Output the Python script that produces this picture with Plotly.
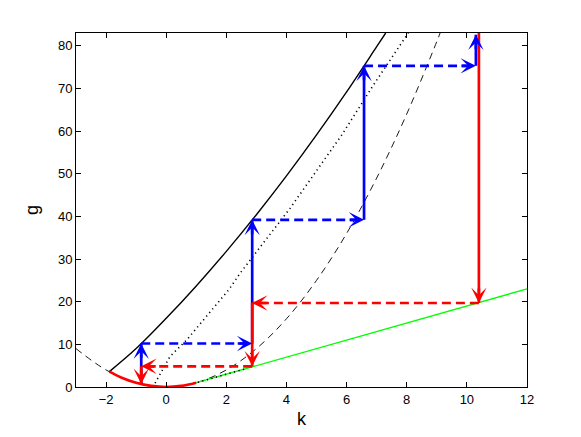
import plotly.graph_objects as go

# dashed parabola
k_parab = [-3, -2, -1, 0, 1, 2, 3, 4, 5, 6, 7, 8, 9, 9.11]
g_parab = [9, 4, 1, 0, 1, 4, 9, 16, 25, 36, 49, 64, 81, 83]

# upper solid curve
k_upper = [-1.89, -1, 0, 1, 2, 3, 4, 5, 6, 7, 7.3]
g_upper = [3.6, 9.0, 16.1, 23.7, 31.8, 40.4, 49.5, 59.1, 69.2, 79.8, 83.0]

# dotted curve (two pieces)
k_dotted = [-0.37, 0.13, 0.69, 1.19, 2.08, 2.47, 4.13, 5.85, 6.91, 8.05]
g_dotted = [0.9, 7.2, 11.1, 15.4, 22.8, 26.8, 42.0, 59.2, 71.0, 83.0]
k_dotted_low = [0.9, 2.6]
g_dotted_low = [0.8, 4.2]

# thick red curve
k_red = [-1.89, -1.5, -1.0, -0.5, 0, 0.5, 1.0]
g_red = [3.6, 2.25, 1.0, 0.25, 0, 0.25, 1.0]

# green line
k_green = [1.0, 12.0]
g_green = [1.0, 23.0]

# blue steps: up (solid) and right (dashed)
blue_up_k = [-0.83, 2.86, 6.58, 10.3]
blue_up_from = [0.7, 10.2, 39.2, 75.3]
blue_up_to = [10.2, 39.2, 75.3, 82.6]
blue_right_g = [10.2, 39.2, 75.3]
blue_right_from = [-0.83, 2.86, 6.58]
blue_right_to = [2.86, 6.58, 10.3]

# red steps: down (solid) and left (dashed)
red_down_k = [10.4, 2.86, -0.83]
red_down_from = [83.0, 19.7, 4.85]
red_down_to = [19.7, 4.85, 0.7]
red_left_g = [19.7, 4.85]
red_left_from = [10.4, 2.86]
red_left_to = [2.86, -0.83]

BLUE = "rgb(0,0,255)"
RED = "rgb(255,0,0)"
LW = 2.7
FONT = "Liberation Sans, Arial, Helvetica"

fig = go.Figure()

fig.add_trace(go.Scatter(x=k_parab, y=g_parab, mode="lines", line_shape="spline",
                         line=dict(color="black", width=0.9, dash="7px,5px")))
fig.add_trace(go.Scatter(x=k_upper, y=g_upper, mode="lines", line_shape="spline",
                         line=dict(color="black", width=1.4)))
fig.add_trace(go.Scatter(x=k_dotted, y=g_dotted, mode="lines",
                         line=dict(color="black", width=1.6, dash="1.2px,3.5px")))
fig.add_trace(go.Scatter(x=k_green, y=g_green, mode="lines",
                         line=dict(color="rgb(0,255,0)", width=1.3)))
fig.add_trace(go.Scatter(x=k_dotted_low, y=g_dotted_low, mode="lines",
                         line=dict(color="black", width=1.6, dash="1.2px,3.5px")))
fig.add_trace(go.Scatter(x=k_red, y=g_red, mode="lines", line_shape="spline",
                         line=dict(color=RED, width=LW)))

annots = []


def head(x, y, dx, dy, color):
    # short annotation arrow: the tip sits on (x, y), tail offset in pixels
    annots.append(dict(x=x, y=y, ax=dx, ay=dy, xref="x", yref="y",
                       showarrow=True, arrowhead=3, arrowsize=0.95,
                       arrowwidth=LW, arrowcolor=color, text=""))


for k, a, b in zip(blue_up_k, blue_up_from, blue_up_to):
    fig.add_trace(go.Scatter(x=[k, k], y=[a, b], mode="lines",
                             line=dict(color=BLUE, width=LW)))
    head(k, b, 0, 16, BLUE)

for g, a, b in zip(blue_right_g, blue_right_from, blue_right_to):
    fig.add_trace(go.Scatter(x=[a, b], y=[g, g], mode="lines",
                             line=dict(color=BLUE, width=LW, dash="9px,5px")))
    head(b, g, -16, 0, BLUE)

for g, a, b in zip(red_left_g, red_left_from, red_left_to):
    fig.add_trace(go.Scatter(x=[a, b], y=[g, g], mode="lines",
                             line=dict(color=RED, width=LW, dash="9px,5px")))
    head(b, g, 16, 0, RED)

for k, a, b in zip(red_down_k, red_down_from, red_down_to):
    fig.add_trace(go.Scatter(x=[k, k], y=[a, b], mode="lines",
                             line=dict(color=RED, width=LW)))
    head(k, b, 0, -16, RED)

axis_common = dict(showline=True, linecolor="black", linewidth=1, mirror="ticks",
                   ticks="inside", ticklen=5, tickcolor="black", showgrid=False,
                   zeroline=False, automargin=False,
                   tickfont=dict(family=FONT, size=13, color="black"))

# the page body adds 8 px around the figure, so the figure is 16 px smaller
fig.update_layout(
    width=565, height=421,
    showlegend=False,
    plot_bgcolor="white", paper_bgcolor="white",
    margin=dict(l=68, r=46, t=25, b=42),
    annotations=annots,
    xaxis=dict(range=[-3, 12], tickvals=[-2, 0, 2, 4, 6, 8, 10, 12],
               title=dict(text="k", font=dict(family=FONT, size=18, color="black"),
                          standoff=6),
               **axis_common),
    yaxis=dict(range=[0, 83], tickvals=[0, 10, 20, 30, 40, 50, 60, 70, 80],
               title=dict(text="g", font=dict(family=FONT, size=18, color="black"),
                          standoff=14),
               **axis_common),
)

fig.write_html("out.html")
